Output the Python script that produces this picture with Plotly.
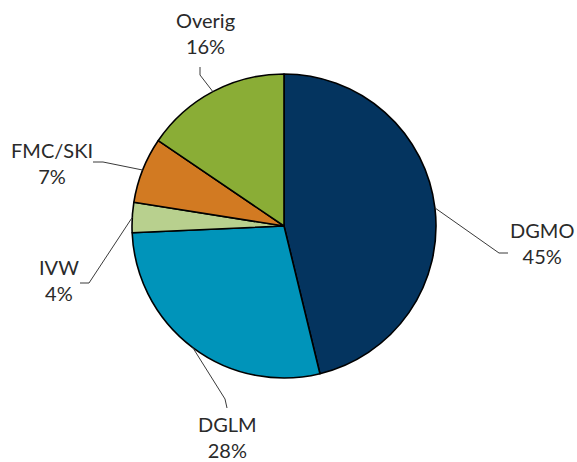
import math
import plotly.graph_objects as go

# ---- data ----
labels = ["DGMO", "DGLM", "IVW", "FMC/SKI", "Overig"]
values = [46.2, 28.1, 3.2, 7.0, 15.5]          # slice sizes
pct_text = ["45%", "28%", "4%", "7%", "16%"]    # printed labels
colors = ["#04345F", "#0094BA", "#B8D08E", "#D27A22", "#8AAD36"]

W, H = 577, 462
# pie box in pixels (layout)
px0, px1, py0, py1 = 132, 436, 74, 378
cx, cy, R = (px0 + px1) / 2, (py0 + py1) / 2, (px1 - px0) / 2

# label layout (pixels): knee, end of leader line, text centre
label_layout = {
    "DGMO":    dict(knee=(499, 253), end=(508, 253), text=(542, 243)),
    "DGLM":    dict(knee=(225, 399), end=(227, 408), text=(227, 437)),
    "IVW":     dict(knee=(89, 283),  end=(80, 283),  text=(59, 280)),
    "FMC/SKI": dict(knee=(103, 162), end=(93, 162),  text=(52, 163)),
    "Overig":  dict(knee=(200, 75),  end=(200, 67),  text=(205, 33)),
}

def px(x):
    return x / W

def py(y):
    return 1 - y / H

fig = go.Figure(go.Pie(
    labels=labels, values=values, sort=False, direction="clockwise", rotation=0,
    marker=dict(colors=colors, line=dict(color="#000000", width=1.6)),
    textinfo="none", hoverinfo="label+percent", showlegend=False,
    domain=dict(x=[px(px0), px(px1)], y=[py(py1), py(py0)]),
))

total = sum(values)
cum = 0
shapes, annotations = [], []
for lab, v, t in zip(labels, values, pct_text):
    mid = (cum + v / 2) / total * 2 * math.pi
    cum += v
    ex, ey = cx + R * math.sin(mid), cy - R * math.cos(mid)
    L = label_layout[lab]
    path = "M {} {} L {} {} L {} {}".format(px(ex), py(ey), px(L["knee"][0]), py(L["knee"][1]),
                                            px(L["end"][0]), py(L["end"][1]))
    shapes.append(dict(type="path", path=path, xref="paper", yref="paper",
                       line=dict(color="#3a3a3a", width=1)))
    annotations.append(dict(text=f"{lab}<br>{t}", x=px(L["text"][0]), y=py(L["text"][1]),
                            xref="paper", yref="paper", showarrow=False,
                            xanchor="center", yanchor="middle",
                            font=dict(family="Lato", size=20, color="#2a2a2a")))

fig.update_layout(width=W, height=H, margin=dict(l=0, r=0, t=0, b=0),
                  paper_bgcolor="white", plot_bgcolor="white",
                  shapes=shapes, annotations=annotations)
fig.write_html("out.html", config={"displayModeBar": False},
               post_script="document.body.style.margin='0';document.body.style.padding='0';")
